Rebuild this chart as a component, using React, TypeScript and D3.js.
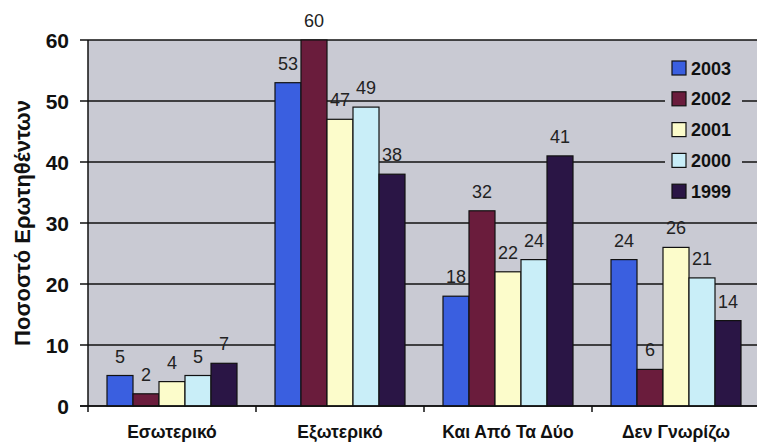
import React from "react";
import * as d3 from "d3";

const categories = ["Εσωτερικό", "Εξωτερικό", "Και Από Τα Δύο", "Δεν Γνωρίζω"];
const years = ["2003", "2002", "2001", "2000", "1999"];
const values2003 = [5, 53, 18, 24];
const values2002 = [2, 60, 32, 6];
const values2001 = [4, 47, 22, 26];
const values2000 = [5, 49, 24, 21];
const values1999 = [7, 38, 41, 14];
const yTicks = [0, 10, 20, 30, 40, 50, 60];

const seriesValues = [values2003, values2002, values2001, values2000, values1999];
const colors = ["#3a5fe0", "#6a1c3c", "#fcfccb", "#c9eef8", "#2a1545"];

const W = 757;
const H = 442;
const left = 88;
const right = 760;
const top = 40;
const bottom = 406;
const font = "'Liberation Sans', Arial, sans-serif";

export default function App() {
  const x = d3.scaleBand<string>().domain(categories).range([left, right]);
  const inner = d3
    .scaleBand<string>()
    .domain(years)
    .range([19, x.bandwidth() - 19]);
  const y = d3.scaleLinear().domain([0, 60]).range([bottom, top]);

  return (
    <svg
      width={W}
      height={H}
      style={{ position: "absolute", left: 0, top: 0 }}
      fontFamily={font}
    >
      <rect x={0} y={0} width={W} height={H} fill="#ffffff" />
      <rect x={left} y={top} width={right - left} height={bottom - top} fill="#c9cad3" />
      {/* gridlines */}
      {yTicks.map((t) => (
        <line
          key={"g" + t}
          x1={left - 8}
          x2={right}
          y1={y(t)}
          y2={y(t)}
          stroke="#111"
          strokeWidth={1.5}
        />
      ))}
      {/* legend panel covers the gridlines */}
      <rect x={665} y={52} width={77} height={152} fill="#c9cad3" />
      {/* bars */}
      {seriesValues.map((vals, si) =>
        vals.map((v, ci) => (
          <rect
            key={`b${si}-${ci}`}
            x={(x(categories[ci]) as number) + (inner(years[si]) as number)}
            y={y(v)}
            width={inner.bandwidth()}
            height={bottom - y(v)}
            fill={colors[si]}
            stroke="#111"
            strokeWidth={1.2}
          />
        ))
      )}
      {/* value labels */}
      {seriesValues.map((vals, si) =>
        vals.map((v, ci) => (
          <text
            key={`l${si}-${ci}`}
            x={(x(categories[ci]) as number) + (inner(years[si]) as number) + inner.bandwidth() / 2}
            y={y(v) - 13}
            textAnchor="middle"
            fontSize={18}
            fill="#222"
          >
            {v}
          </text>
        ))
      )}
      {/* axes */}
      <line x1={left} x2={left} y1={top} y2={bottom} stroke="#111" strokeWidth={1.5} />
      <line x1={left - 8} x2={right} y1={bottom} y2={bottom} stroke="#111" strokeWidth={1.5} />
      {categories.map((c, i) => (
        <line
          key={"t" + i}
          x1={x(c) as number}
          x2={x(c) as number}
          y1={bottom}
          y2={bottom + 6}
          stroke="#111"
          strokeWidth={1.5}
        />
      ))}
      {yTicks.map((t) => (
        <text
          key={"yl" + t}
          x={69}
          y={y(t) + 7.5}
          textAnchor="end"
          fontSize={21}
          fontWeight="bold"
          fill="#111"
        >
          {t}
        </text>
      ))}
      {categories.map((c) => (
        <text
          key={"xl" + c}
          x={(x(c) as number) + x.bandwidth() / 2}
          y={438}
          textAnchor="middle"
          fontSize={17.5}
          fontWeight="bold"
          fill="#111"
        >
          {c}
        </text>
      ))}
      <text
        transform={`translate(30, ${(top + bottom) / 2}) rotate(-90)`}
        textAnchor="middle"
        fontSize={22}
        fontWeight="bold"
        fill="#111"
      >
        Ποσοστό Ερωτηθέντων
      </text>
      {/* legend */}
      {years.map((yr, i) => (
        <g key={"lg" + yr} transform={`translate(672, ${68 + i * 30.8})`}>
          <rect x={0} y={-7} width={14} height={14} fill={colors[i]} stroke="#111" strokeWidth={1.2} />
          <text x={19} y={6.5} fontSize={18} fontWeight="bold" fill="#111">
            {yr}
          </text>
        </g>
      ))}
    </svg>
  );
}
